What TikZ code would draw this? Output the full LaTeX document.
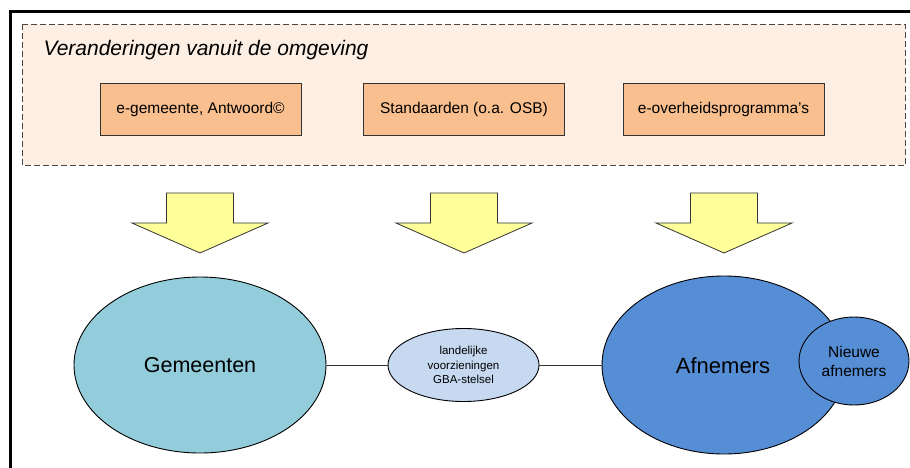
\documentclass[tikz,border=0pt]{standalone}
\usepackage{fontspec}
\setmainfont{Liberation Sans}
\usetikzlibrary{shapes.geometric}
\definecolor{peach}{HTML}{FDEFE4}
\definecolor{orangebox}{HTML}{F9BF8F}
\definecolor{yellowarrow}{HTML}{FFFF99}
\definecolor{gemblue}{HTML}{93CDDC}
\definecolor{lightblue}{HTML}{C6D9F1}
\definecolor{midblue}{HTML}{558ED5}
\definecolor{edge}{HTML}{333333}
\begin{document}
\begin{tikzpicture}[x=1pt,y=-1pt,
  srcbox/.style={draw=edge, line width=0.9pt, fill=orangebox, minimum width=201pt, minimum height=52pt, inner sep=0pt, font=\fontsize{15.5}{18}\selectfont},
  bigell/.style={ellipse, draw=black, line width=0.9pt, inner sep=0pt},
  conn/.style={draw=edge, line width=0.9pt},
  downarrow/.style={draw=edge, line width=0.8pt, fill=yellowarrow}]
\useasboundingbox (0,0) rectangle (910,467);
% outer frame (top and left visible)
\draw[line width=3pt, line cap=rect] (10,467) -- (10,11) -- (912,11);
% dashed environment box
\draw[draw=edge!90, fill=peach, line width=1pt, dash pattern=on 6pt off 3pt] (22,24) rectangle (905.5,165);
\node[anchor=west, font=\fontsize{21}{24}\selectfont\itshape] (title) at (40,50) {Veranderingen vanuit de omgeving};
% source boxes
\node[srcbox] (b1) at (200.5,109) {e-gemeente, Antwoord©};
\node[srcbox] (b2) at (464,109) {Standaarden (o.a. OSB)};
\node[srcbox] (b3) at (723.5,109) {e-overheidsprogramma’s};
% arrows
\foreach \cx/\nm in {200/a1,464/a2,724/a3}{
  \draw[downarrow] (\cx-33.5,193) -- (\cx+33.5,193) -- (\cx+33.5,223) -- (\cx+68,223)
     -- (\cx,253) -- (\cx-68,223) -- (\cx-33.5,223) -- cycle;
  \coordinate (\nm) at (\cx,253);
}
% ellipses
\node[bigell, fill=gemblue, minimum width=252pt, minimum height=176pt, font=\fontsize{21.5}{24}\selectfont] (gem) at (200,365) {Gemeenten};
\node[bigell, fill=midblue, minimum width=244pt, minimum height=178pt] (afn) at (724,365) {};
\node[font=\fontsize{22}{24}\selectfont] (afntxt) at (723,366) {Afnemers};
\node[bigell, fill=midblue, minimum width=110pt, minimum height=88pt, align=center, font=\fontsize{15.5}{19}\selectfont] (nieuw) at (854,361) {Nieuwe\\afnemers};
\node[bigell, fill=lightblue, minimum width=151pt, minimum height=73pt, align=center, font=\fontsize{11.5}{14.5}\selectfont] (gba) at (463.5,365) {landelijke\\voorzieningen\\GBA-stelsel};
% connectors
\draw[conn] (gem.east) -- (gba.west);
\draw[conn] (gba.east) -- (afn.west);
\end{tikzpicture}
\end{document}
